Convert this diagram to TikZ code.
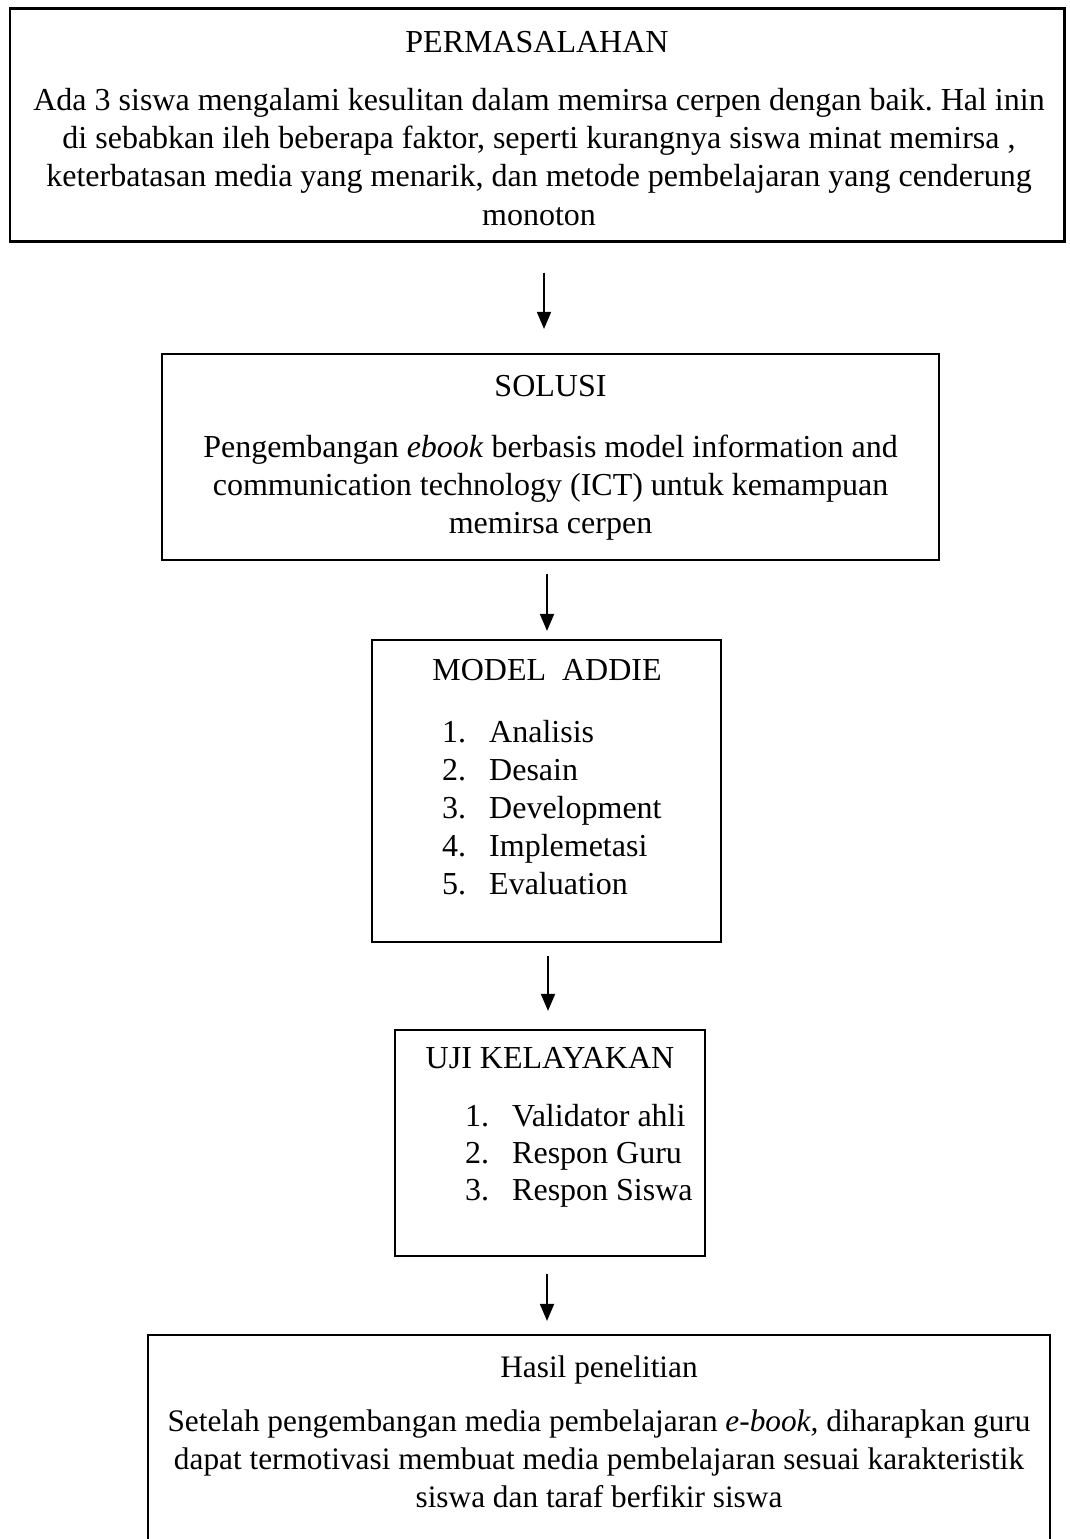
\documentclass[tikz,border=0pt]{standalone}
\usepackage{fontspec}
\setmainfont{Liberation Serif}
\usetikzlibrary{arrows.meta}
\frenchspacing
\begin{document}
\begin{tikzpicture}[x=1pt,y=-1pt,
  box/.style={draw, line width=2.2pt, inner sep=0pt},
  txt/.style={anchor=base, inner sep=0pt, font=\fontsize{32}{38}\selectfont},
  txtb/.style={txt, font=\fontsize{31.3}{38}\selectfont},
  lft/.style={txt, anchor=base west},
  arr/.style={line width=1.8pt, -{Triangle[length=17pt,width=14pt]}}]
\useasboundingbox (0,0) rectangle (1069,1539);
\clip (0,0) rectangle (1069,1539);
% boxes
\node[box, minimum width=1054.5pt, minimum height=233pt] (b1) at (537.25,125) {};
\node[box, minimum width=777pt, minimum height=206pt] (b2) at (550.5,457) {};
\node[box, minimum width=349pt, minimum height=302pt] (b3) at (546.5,791) {};
\node[box, minimum width=310pt, minimum height=226pt] (b4) at (550,1143) {};
\node[box, minimum width=902pt, minimum height=240pt] (b5) at (599,1455) {};
% box 1 text
\node[txt] (t1) at (537,52) {PERMASALAHAN};
\node[txt] (t1a) at (539,110) {Ada 3 siswa mengalami kesulitan dalam memirsa cerpen dengan baik. Hal inin};
\node[txt] (t1b) at (539,148.3) {di sebabkan ileh beberapa faktor, seperti kurangnya siswa minat memirsa ,};
\node[txt] (t1c) at (539,186.6) {keterbatasan media yang menarik, dan metode pembelajaran yang cenderung};
\node[txt] (t1d) at (539,225) {monoton};
% box 2 text
\node[txt] (t2) at (550.5,396) {SOLUSI};
\node[txt] (t2a) at (550.5,457) {Pengembangan \textit{ebook} berbasis model information and};
\node[txt] (t2b) at (550.5,495) {communication technology (ICT) untuk kemampuan};
\node[txt] (t2c) at (550.5,533) {memirsa cerpen};
% box 3 text
\node[txt] (t3) at (547,680) {MODEL\ \ ADDIE};
\node[lft] (n31) at (442,742) {1.};
\node[lft] (n32) at (442,780.2) {2.};
\node[lft] (n33) at (442,818.4) {3.};
\node[lft] (n34) at (442,856.6) {4.};
\node[lft] (n35) at (442,894.8) {5.};
\node[lft] (i31) at (489,742) {Analisis};
\node[lft] (i32) at (489,780.2) {Desain};
\node[lft] (i33) at (489,818.4) {Development};
\node[lft] (i34) at (489,856.6) {Implemetasi};
\node[lft] (i35) at (489,894.8) {Evaluation};
% box 4 text
\node[txt] (t4) at (550,1068) {UJI KELAYAKAN};
\node[lft] (n41) at (465,1126) {1.};
\node[lft] (n42) at (465,1163) {2.};
\node[lft] (n43) at (465,1200) {3.};
\node[lft] (i41) at (512,1126) {Validator ahli};
\node[lft] (i42) at (512,1163) {Respon Guru};
\node[lft] (i43) at (512,1200) {Respon Siswa};
% box 5 text
\node[txtb] (t5) at (599,1377) {Hasil penelitian};
\node[txtb] (t5a) at (599,1431) {Setelah pengembangan media pembelajaran \textit{e-book,} diharapkan guru};
\node[txtb] (t5b) at (599,1469) {dapat termotivasi membuat media pembelajaran sesuai karakteristik};
\node[txtb] (t5c) at (599,1507) {siswa dan taraf berfikir siswa};
% arrows
\draw[arr] ([xshift=6.75pt,yshift=-30pt]b1.south) -- ([xshift=-6.5pt,yshift=24pt]b2.north);
\draw[arr] ([xshift=-3.5pt,yshift=-13pt]b2.south) -- ([xshift=0.5pt,yshift=8pt]b3.north);
\draw[arr] ([xshift=1.5pt,yshift=-13pt]b3.south) -- ([xshift=-2pt,yshift=18pt]b4.north);
\draw[arr] ([xshift=-3pt,yshift=-17pt]b4.south) -- ([xshift=-52pt,yshift=13pt]b5.north);
\end{tikzpicture}
\end{document}
